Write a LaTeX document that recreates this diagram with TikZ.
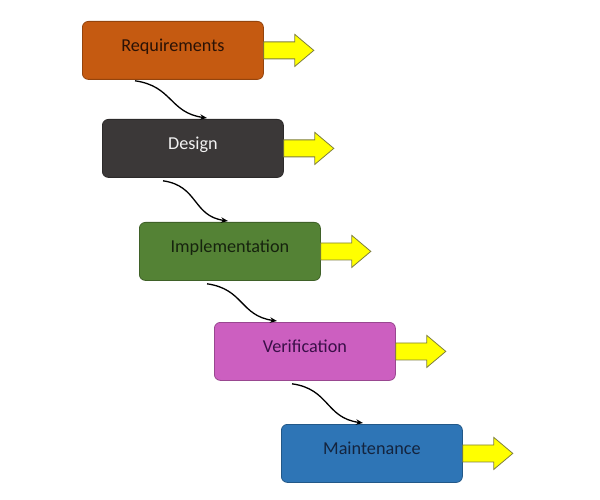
\documentclass[tikz,border=0pt]{standalone}
\usepackage{fontspec}
\setmainfont{Carlito}
\usetikzlibrary{calc,arrows.meta}
\definecolor{creq}{HTML}{C55A11}
\definecolor{cdes}{HTML}{3B3838}
\definecolor{cimp}{HTML}{548235}
\definecolor{cver}{HTML}{CC5FC0}
\definecolor{cmai}{HTML}{2E75B6}
\definecolor{cyel}{HTML}{FFFF00}
\definecolor{cyeledge}{HTML}{7F7F3F}
\definecolor{treq}{HTML}{2A1206}
\definecolor{tdes}{HTML}{F2F2F2}
\definecolor{timp}{HTML}{16230E}
\definecolor{tver}{HTML}{3A0F48}
\definecolor{tmai}{HTML}{14243E}
\tikzset{
  phase/.style={draw=#1!75!black, fill=#1, line width=0.8bp, rounded corners=6bp,
    minimum width=181bp, minimum height=58bp, inner sep=0pt, anchor=north west,
    font=\fontsize{18.2bp}{20bp}\selectfont},
  outarrow/.style={fill=cyel, draw=cyeledge, line width=0.8bp, line join=miter},
  flow/.style={draw=black, line width=1.3bp, -{Stealth[length=7bp,width=5.5bp]}}
}
\newcommand{\yarrow}[1]{%
  \draw[outarrow] ($(#1.east)+(0,-8.5)$) -- ++(31,0) -- ++(0,-7.5) -- ++(19,16) -- ++(-19,16) -- ++(0,-7.5) -- ++(-31,0) -- cycle;}
\newcommand{\lbl}[1]{\raisebox{-0.7bp}[0pt][0pt]{#1}}
\begin{document}
\begin{tikzpicture}[x=1bp,y=-1bp]
\useasboundingbox (0,0) rectangle (600,500);
\node[phase=creq, text=treq] (req) at (82,21) {\lbl{Requirements}};
\node[phase=cdes, text=tdes] (des) at (102,119) {\lbl{Design}};
\node[phase=cimp, text=timp] (imp) at (139,222) {\lbl{Implementation}};
\node[phase=cver, text=tver] (ver) at (214,322) {\lbl{Verification}};
\node[phase=cmai, text=tmai] (mai) at (281,424) {\lbl{Maintenance}};
\yarrow{req}
\yarrow{des}
\yarrow{imp}
\yarrow{ver}
\yarrow{mai}
\coordinate (s1) at ($(req.south west)+(53,1)$);
\coordinate (e1) at ($(des.north west)+(105,-1)$);
\coordinate (s2) at ($(des.south west)+(61,3)$);
\coordinate (e2) at ($(imp.north west)+(89,-1)$);
\coordinate (s3) at ($(imp.south west)+(68,3)$);
\coordinate (e3) at ($(ver.north west)+(63,-1)$);
\coordinate (s4) at ($(ver.south west)+(78,3)$);
\coordinate (e4) at ($(mai.north west)+(82,-1)$);
\draw[flow] (s1) to[out=-8,in=172,looseness=1.2] (e1);
\draw[flow] (s2) to[out=-8,in=172,looseness=1.2] (e2);
\draw[flow] (s3) to[out=-8,in=172,looseness=1.2] (e3);
\draw[flow] (s4) to[out=-8,in=172,looseness=1.2] (e4);
\end{tikzpicture}
\end{document}
